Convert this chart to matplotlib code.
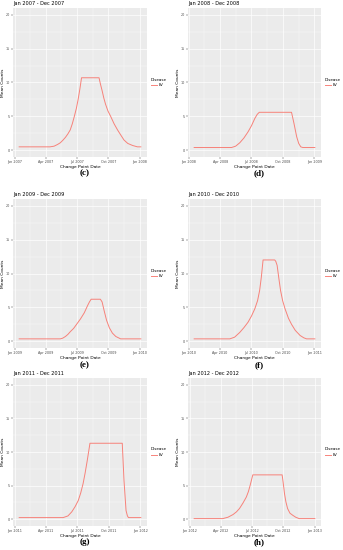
import numpy as np
import matplotlib
matplotlib.use('Agg')
import matplotlib.pyplot as plt
import matplotlib.dates as mdates

# one panel per year: day offset from Jan 1, mean count
years = [2007, 2008, 2009, 2010, 2011, 2012]
panel_tags = ['(c)', '(d)', '(e)', '(f)', '(g)', '(h)']

days_c = [13, 103, 115, 125, 133, 141, 148, 155, 162, 168, 174, 180, 185, 190, 195,
          246, 250, 255, 260, 265, 272, 280, 290, 300, 310, 319, 330, 344, 358, 368]
vals_c = [0.5, 0.5, 0.6, 0.85, 1.1, 1.5, 1.9, 2.4, 3.0, 3.9, 5.0, 6.2, 7.5, 9.0, 10.7,
          10.7, 9.8, 8.8, 7.7, 6.8, 5.8, 5.0, 3.9, 3.0, 2.2, 1.5, 1.0, 0.7, 0.5, 0.5]

days_d = [15, 124, 136, 148, 160, 172, 182, 192, 199, 205, 299, 306, 314, 320, 326, 332, 367]
vals_d = [0.4, 0.4, 0.6, 1.1, 1.8, 2.7, 3.6, 4.7, 5.3, 5.6, 5.6, 4.0, 2.0, 1.0, 0.5, 0.4, 0.4]

days_e = [13, 133, 140, 148, 155, 162, 172, 182, 192, 203, 213, 218, 223,
          250, 255, 261, 268, 276, 285, 295, 309, 368]
vals_e = [0.35, 0.35, 0.45, 0.7, 1.0, 1.4, 1.9, 2.6, 3.3, 4.2, 5.3, 5.8, 6.2,
          6.2, 5.8, 4.5, 3.1, 2.0, 1.2, 0.7, 0.35, 0.35]

days_f = [15, 119, 133, 148, 160, 172, 182, 192, 200, 206, 211, 216,
          250, 253, 257, 262, 267, 273, 280, 290, 299, 310, 324, 335, 343, 367]
vals_f = [0.35, 0.35, 0.6, 1.3, 2.0, 2.8, 3.7, 4.8, 6.0, 7.5, 9.5, 12.0,
          12.0, 11.8, 11.2, 9.3, 7.5, 6.0, 4.8, 3.4, 2.5, 1.6, 0.85, 0.5, 0.35, 0.35]

days_g = [13, 141, 155, 166, 176, 185, 192, 199, 205, 211, 215, 219,
          313, 318, 324, 328, 331, 367]
vals_g = [0.25, 0.25, 0.5, 1.1, 1.9, 2.8, 3.9, 5.3, 6.9, 8.7, 10.0, 11.3,
          11.3, 5.8, 1.3, 0.5, 0.25, 0.25]

days_h = [13, 97, 112, 127, 137, 146, 156, 166, 172, 177, 181, 185,
          271, 274, 278, 282, 287, 294, 302, 311, 321, 367]
vals_h = [0.1, 0.1, 0.3, 0.7, 1.1, 1.6, 2.4, 3.3, 4.1, 5.0, 5.8, 6.6,
          6.6, 5.5, 3.8, 2.6, 1.6, 0.9, 0.6, 0.3, 0.1, 0.1]

all_days = [days_c, days_d, days_e, days_f, days_g, days_h]
all_vals = [vals_c, vals_d, vals_e, vals_f, vals_g, vals_h]

W, H = 343, 550
fig = plt.figure(figsize=(W / 100, H / 100), dpi=100)
fig.patch.set_facecolor('white')

cols = [(13, 147), (188, 321)]
rows = [(8, 157), (199, 348), (378, 526)]
tag_y = [173, 365, 542]
tag_x = [85, 259]

for i, yr in enumerate(years):
    r, c = divmod(i, 2)
    l, rt = cols[c]
    t, b = rows[r]
    ax = fig.add_axes([l / W, 1 - b / H, (rt - l) / W, (b - t) / H])
    ax.set_facecolor('#EBEBEB')
    start = np.datetime64(f'{yr}-01-01')
    x = start + np.array(all_days[i]).astype('timedelta64[D]')
    ax.plot(x, all_vals[i], color='#F8766D', lw=0.7, alpha=0.9, label='EV',
            solid_joinstyle='round')

    d = np.array(all_days[i])
    span = d[-1] - d[0]
    ax.set_xlim(start + np.timedelta64(int(round(d[0] - 0.05 * span)), 'D'),
                start + np.timedelta64(int(round(d[-1] + 0.05 * span)), 'D'))
    ax.set_ylim(-1, 21)

    majors = [np.datetime64(f'{yr}-{m:02d}-01') for m in (1, 4, 7, 10)] + [np.datetime64(f'{yr + 1}-01-01')]
    minors = [majors[k] + (majors[k + 1] - majors[k]) // 2 for k in range(4)]
    ax.set_xticks(majors)
    ax.set_xticks(minors, minor=True)
    ax.xaxis.set_major_formatter(mdates.DateFormatter('%b %Y'))
    ax.set_yticks([0, 5, 10, 15, 20])
    ax.set_yticks([2.5, 7.5, 12.5, 17.5], minor=True)

    ax.grid(which='major', color='white', lw=0.5)
    ax.grid(which='minor', color='white', lw=0.25)
    ax.set_axisbelow(True)
    for s in ax.spines.values():
        s.set_visible(False)
    ax.tick_params(which='major', length=1.2, width=0.3, color='#333333',
                   labelsize=2.4, labelcolor='#4D4D4D', pad=0.8)
    ax.tick_params(which='minor', length=0)

    ax.set_xlabel('Change Point Date', fontsize=3.2, labelpad=0.8)
    ax.set_ylabel('Mean Counts', fontsize=3.2, labelpad=1)
    ax.set_title(f'Jan {yr} - Dec {yr}', fontsize=3.6, loc='left', pad=2)

    leg = ax.legend(title='Disease', loc='center left', bbox_to_anchor=(1.02, 0.5),
                    frameon=False, fontsize=2.6, title_fontsize=3.0,
                    handlelength=1.6, borderaxespad=0, handletextpad=0.5)
    leg._legend_box.align = 'left'

    fig.text(tag_x[c] / W, 1 - tag_y[r] / H, panel_tags[i], ha='center', va='center',
             fontsize=6.5, fontweight='bold', family='Liberation Serif')

fig.savefig('out.png', dpi=100)
